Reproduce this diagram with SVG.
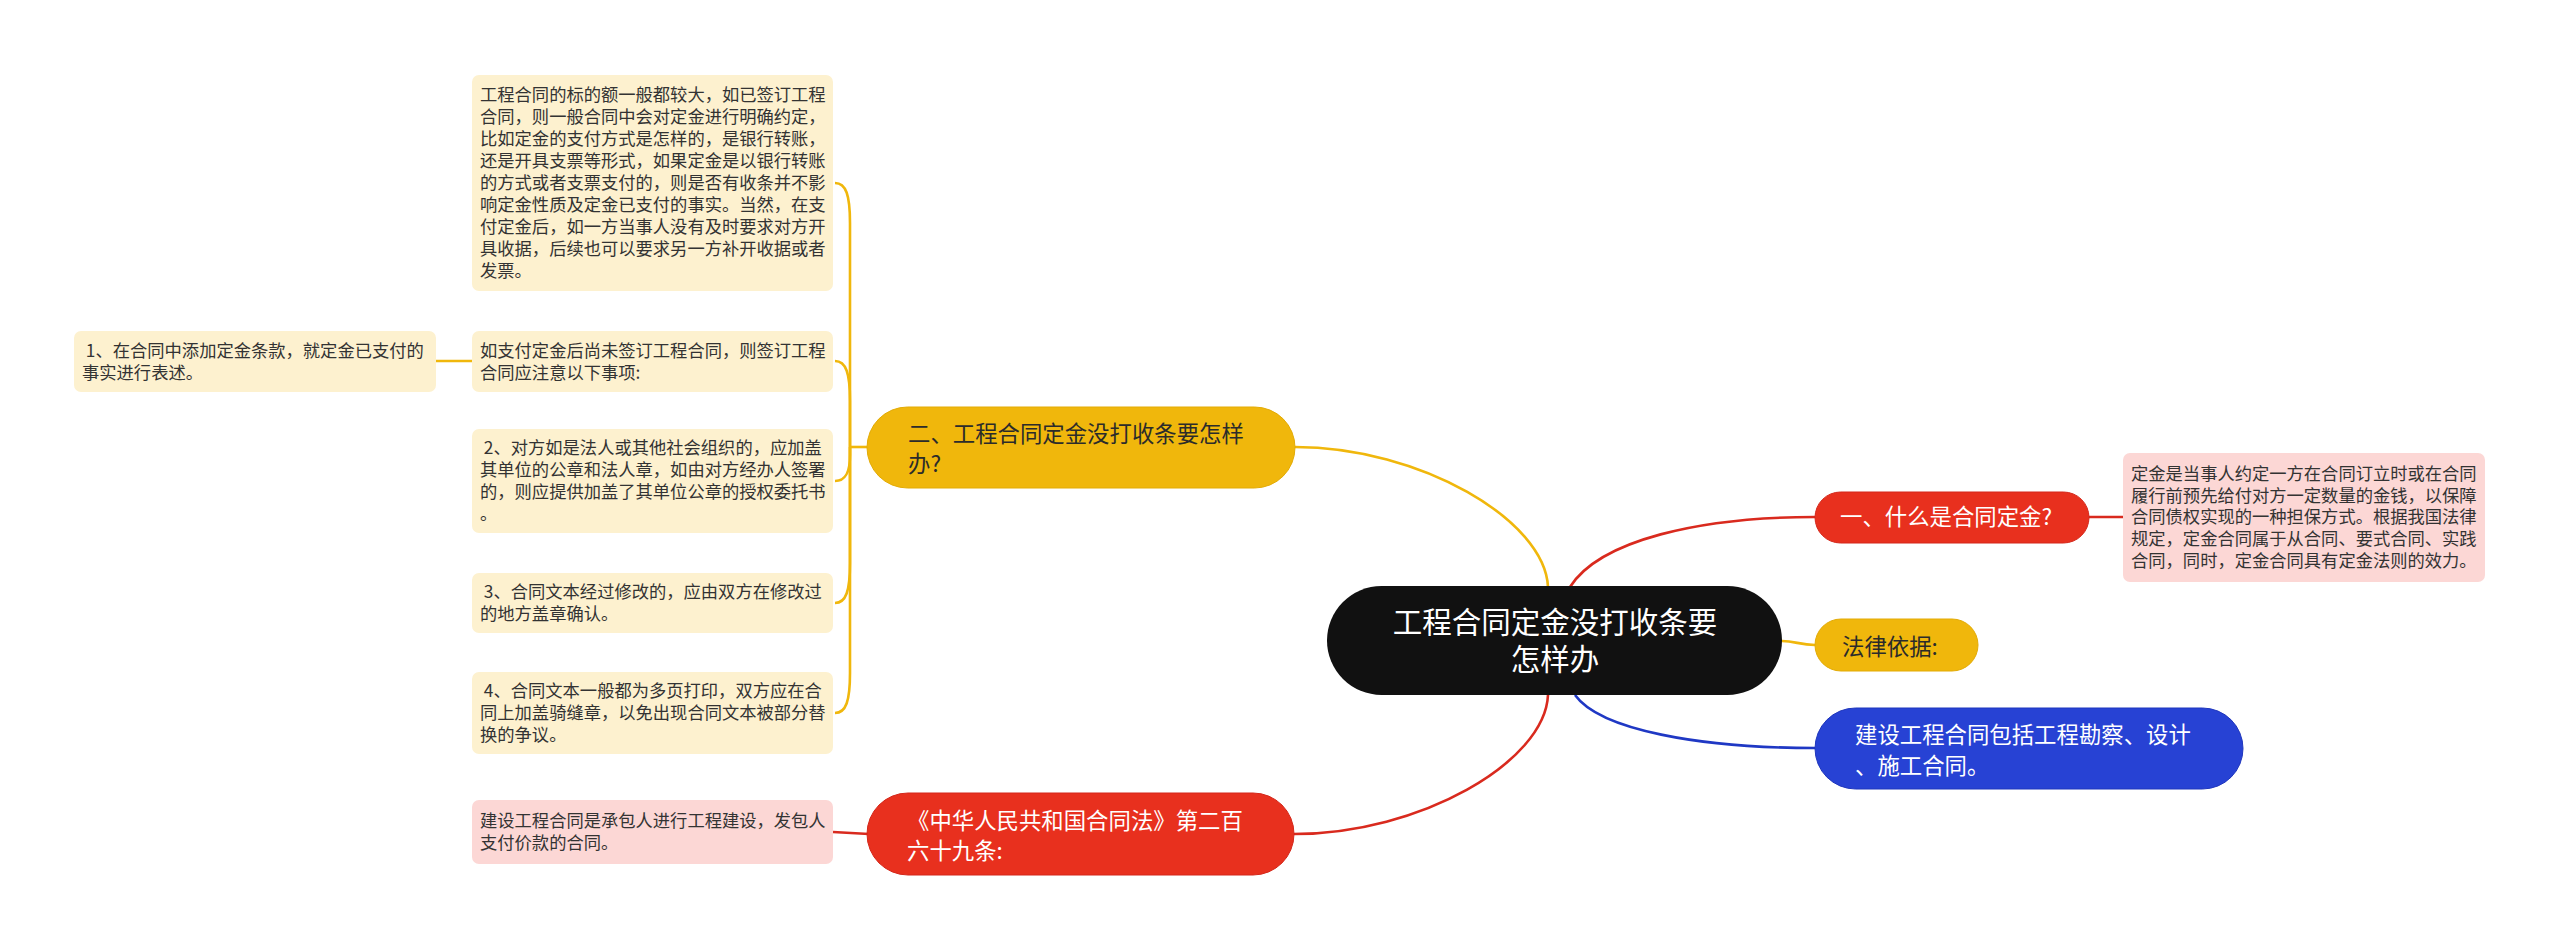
<svg xmlns="http://www.w3.org/2000/svg" width="2560" height="948" viewBox="0 0 2560 948">
<style>
text{font-family:"Noto Sans CJK SC","Microsoft YaHei",sans-serif;}
.sm{font-size:17.3px;fill:#333333;}
.md{font-size:22.4px;}
.dk{fill:#2b2b2b;}
.wt{fill:#ffffff;}
.cream{fill:#fdf1cf;}
.pink{fill:#fcd7d5;}
.cy{fill:none;stroke:#f0b70c;stroke-width:2.6;}
.cr{fill:none;stroke:#d92a1e;stroke-width:2.6;}
.cb{fill:none;stroke:#1f38c4;stroke-width:2.6;}
</style>
<rect width="2560" height="948" fill="#ffffff"/>
<g id="connectors">
  <path class="cy" d="M1548,587 C1545,520 1420,447 1295,447"/>
  <path class="cr" d="M1548,695 C1545,762 1420,834 1294,834"/>
  <path class="cr" d="M1570,587 C1600,540 1700,517 1815,517"/>
  <path class="cb" d="M1575,695 C1600,730 1700,748 1815,748"/>
  <path class="cy" d="M1782,641 C1795,641 1800,645 1815,645"/>
  <path class="cr" d="M2089,517 L2123,517"/>
  <path class="cr" d="M869,834 L833,832"/>
  <path class="cy" d="M867,447 L850,447"/>
  <path class="cy" d="M850,447 L850,223 C850,195 846,183 835,183"/>
  <path class="cy" d="M850,447 L850,401 C850,373 846,361 835,361"/>
  <path class="cy" d="M850,447 L850,455 C850,472 846,481 835,481"/>
  <path class="cy" d="M850,447 L850,563 C850,591 846,603 835,603"/>
  <path class="cy" d="M850,447 L850,673 C850,701 846,713 835,713"/>
  <path class="cy" d="M436,361 L472,361"/>
</g>
<g id="center">
  <rect x="1327" y="586" width="455" height="109" rx="54.5" fill="#111111"/>
  <text x="1555" y="632.5" font-size="29.5" class="wt" text-anchor="middle">工程合同定金没打收条要</text>
  <text x="1555" y="669.5" font-size="29.5" class="wt" text-anchor="middle">怎样办</text>
</g>
<g id="n-er">
  <rect x="867" y="407" width="428" height="81" rx="40.5" fill="#f0b70c" stroke="#e3ab05" stroke-width="1"/>
  <text x="908" y="442" class="md dk">二、工程合同定金没打收条要怎样</text>
  <text x="908" y="472" class="md dk">办?</text>
</g>
<g id="n-law">
  <rect x="867" y="793" width="427" height="82" rx="41" fill="#e8301e" stroke="#d4271a" stroke-width="1"/>
  <text x="907" y="829" class="md wt">《中华人民共和国合同法》第二百</text>
  <text x="907" y="859" class="md wt">六十九条:</text>
</g>
<g id="n-yi">
  <rect x="1815" y="492" width="274" height="51" rx="25.5" fill="#e8301e" stroke="#d4271a" stroke-width="1"/>
  <text x="1840" y="525" class="md wt">一、什么是合同定金?</text>
</g>
<g id="n-basis">
  <rect x="1815" y="619" width="163" height="52" rx="26" fill="#f0b70c" stroke="#e3ab05" stroke-width="1"/>
  <text x="1842" y="655" class="md dk">法律依据:</text>
</g>
<g id="n-blue">
  <rect x="1815" y="708" width="428" height="81" rx="40.5" fill="#2742d4" stroke="#1f36bd" stroke-width="1"/>
  <text x="1855" y="743" class="md wt">建设工程合同包括工程勘察、设计</text>
  <text x="1855" y="774" class="md wt">、施工合同。</text>
</g>
<g id="t-top">
  <rect x="472" y="75" width="361" height="216" rx="7" class="cream"/>
  <text class="sm" x="480" y="101">工程合同的标的额一般都较大，如已签订工程</text>
  <text class="sm" x="480" y="123">合同，则一般合同中会对定金进行明确约定，</text>
  <text class="sm" x="480" y="145">比如定金的支付方式是怎样的，是银行转账，</text>
  <text class="sm" x="480" y="167">还是开具支票等形式，如果定金是以银行转账</text>
  <text class="sm" x="480" y="189">的方式或者支票支付的，则是否有收条并不影</text>
  <text class="sm" x="480" y="211">响定金性质及定金已支付的事实。当然，在支</text>
  <text class="sm" x="480" y="233">付定金后，如一方当事人没有及时要求对方开</text>
  <text class="sm" x="480" y="255">具收据，后续也可以要求另一方补开收据或者</text>
  <text class="sm" x="480" y="277">发票。</text>
</g>
<g id="t-if">
  <rect x="472" y="331" width="361" height="61" rx="7" class="cream"/>
  <text class="sm" x="480" y="356.5">如支付定金后尚未签订工程合同，则签订工程</text>
  <text class="sm" x="480" y="378.5">合同应注意以下事项:</text>
</g>
<g id="t-1">
  <rect x="74" y="331" width="362" height="61" rx="7" class="cream"/>
  <text class="sm" x="82" y="356.5">&#160;1、在合同中添加定金条款，就定金已支付的</text>
  <text class="sm" x="82" y="378.5">事实进行表述。</text>
</g>
<g id="t-2">
  <rect x="472" y="429" width="361" height="104" rx="7" class="cream"/>
  <text class="sm" x="480" y="454">&#160;2、对方如是法人或其他社会组织的，应加盖</text>
  <text class="sm" x="480" y="476">其单位的公章和法人章，如由对方经办人签署</text>
  <text class="sm" x="480" y="498">的，则应提供加盖了其单位公章的授权委托书</text>
  <text class="sm" x="480" y="520">。</text>
</g>
<g id="t-3">
  <rect x="472" y="573" width="361" height="60" rx="7" class="cream"/>
  <text class="sm" x="480" y="598">&#160;3、合同文本经过修改的，应由双方在修改过</text>
  <text class="sm" x="480" y="620">的地方盖章确认。</text>
</g>
<g id="t-4">
  <rect x="472" y="672" width="361" height="82" rx="7" class="cream"/>
  <text class="sm" x="480" y="697">&#160;4、合同文本一般都为多页打印，双方应在合</text>
  <text class="sm" x="480" y="719">同上加盖骑缝章，以免出现合同文本被部分替</text>
  <text class="sm" x="480" y="741">换的争议。</text>
</g>
<g id="t-law">
  <rect x="472" y="800" width="361" height="64" rx="7" class="pink"/>
  <text class="sm" x="480" y="827">建设工程合同是承包人进行工程建设，发包人</text>
  <text class="sm" x="480" y="849">支付价款的合同。</text>
</g>
<g id="t-def">
  <rect x="2123" y="453" width="362" height="129" rx="7" class="pink"/>
  <text class="sm" x="2131" y="480">定金是当事人约定一方在合同订立时或在合同</text>
  <text class="sm" x="2131" y="501.7">履行前预先给付对方一定数量的金钱，以保障</text>
  <text class="sm" x="2131" y="523.4">合同债权实现的一种担保方式。根据我国法律</text>
  <text class="sm" x="2131" y="545.1">规定，定金合同属于从合同、要式合同、实践</text>
  <text class="sm" x="2131" y="566.8">合同，同时，定金合同具有定金法则的效力。</text>
</g>
</svg>
